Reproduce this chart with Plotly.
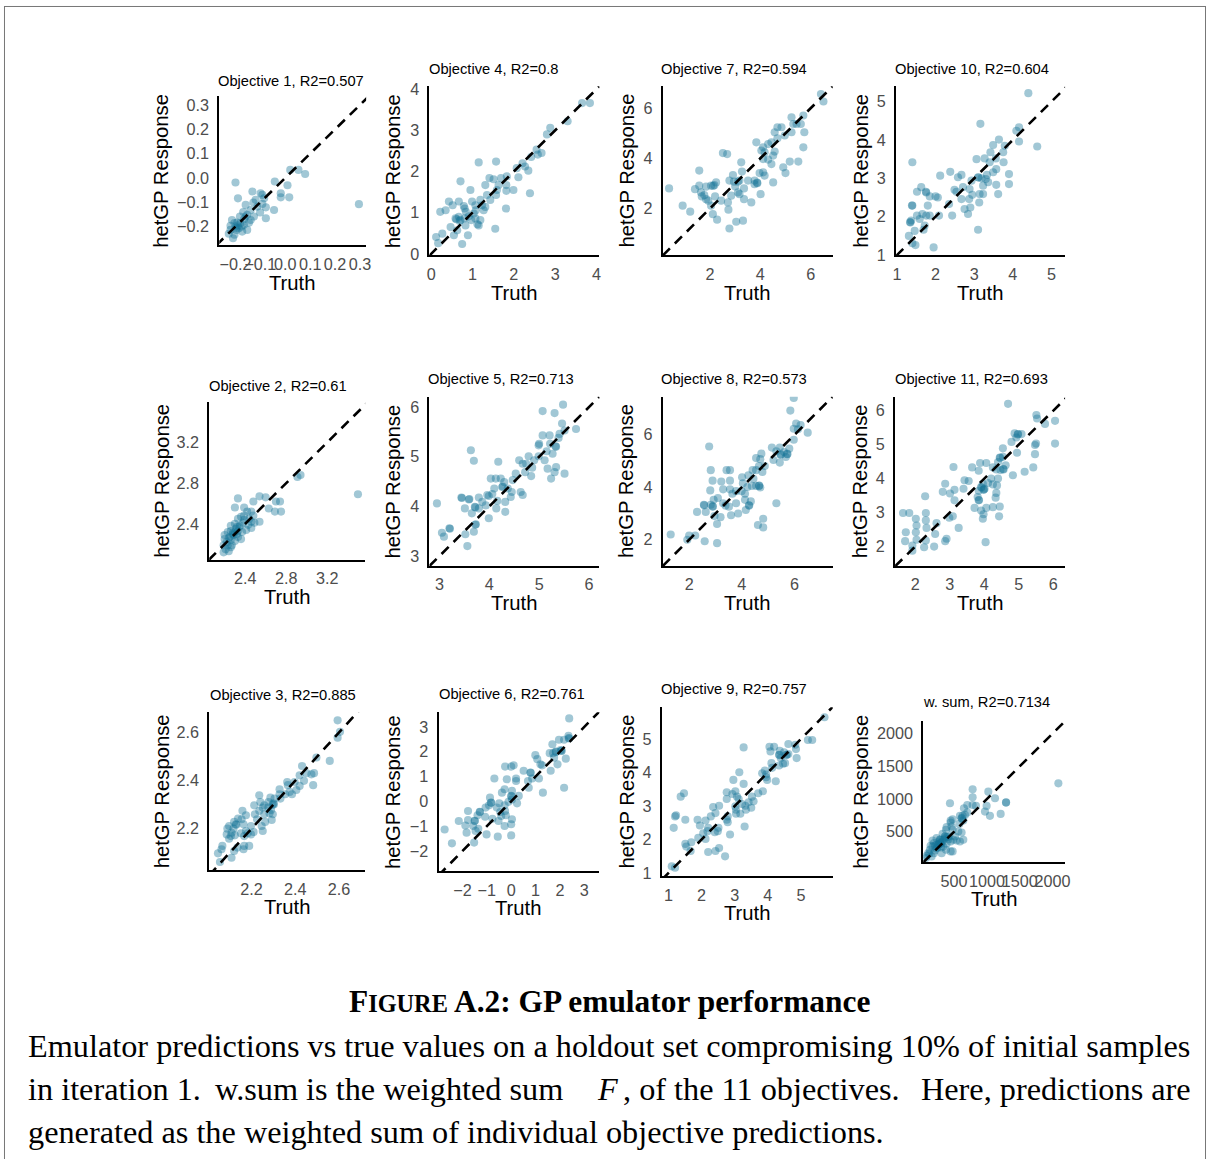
import plotly.graph_objects as go

W, H = 1211, 1167
# The captured page comes out with an 8px inset and a slight uniform shrink;
# positions below are given in captured-image pixels and mapped back here.
SX, SY, OFF = 0.987, 0.9865, 8

# (truth, hetGP prediction) pairs for each objective on the holdout set
OBJ1 = [(0.296, -0.108), (0.020, 0.033), (0.053, 0.033), (0.080, 0.016), (-0.042, -0.015), (0.009, -0.030),
        (-0.018, -0.063), (-0.018, -0.080), (0.016, -0.080), (-0.045, -0.132), (-0.078, -0.166), (-0.200, -0.019),
        (-0.132, -0.056), (-0.099, -0.063), (-0.190, -0.084), (-0.119, -0.090), (-0.085, -0.084), (-0.092, -0.107),
        (-0.112, -0.118), (-0.139, -0.132), (-0.159, -0.111), (-0.153, -0.152), (-0.166, -0.170), (-0.126, -0.159),
        (-0.101, -0.142), (-0.146, -0.184), (-0.180, -0.186), (-0.200, -0.200), (-0.214, -0.173), (-0.220, -0.214),
        (-0.204, -0.234), (-0.227, -0.230), (-0.186, -0.207), (-0.173, -0.221), (-0.196, -0.214), (-0.166, -0.193),
        (-0.153, -0.214), (-0.139, -0.173), (-0.210, -0.248), (-0.193, -0.184), (-0.220, -0.197), (-0.169, -0.140),
        (-0.128, -0.101), (-0.078, -0.121), (-0.092, -0.070), (-0.159, -0.159), (-0.182, -0.159), (-0.204, -0.186),
        (-0.196, -0.205), (-0.190, -0.195), (-0.175, -0.200)]

OBJ2 = [(3.50, 2.69), (2.94, 2.88), (2.91, 2.86), (2.74, 2.62), (2.75, 2.52), (2.70, 2.62), (2.69, 2.52),
        (2.63, 2.55), (2.60, 2.66), (2.54, 2.67), (2.48, 2.62), (2.33, 2.65), (2.30, 2.56), (2.39, 2.56),
        (2.42, 2.52), (2.46, 2.52), (2.48, 2.48), (2.54, 2.42), (2.44, 2.45), (2.39, 2.44), (2.36, 2.47),
        (2.33, 2.45), (2.30, 2.40), (2.35, 2.38), (2.34, 2.37), (2.38, 2.41), (2.43, 2.39), (2.46, 2.42),
        (2.41, 2.34), (2.37, 2.32), (2.33, 2.33), (2.30, 2.32), (2.26, 2.33), (2.23, 2.32), (2.20, 2.29),
        (2.25, 2.27), (2.29, 2.29), (2.28, 2.30), (2.33, 2.27), (2.36, 2.25), (2.30, 2.23), (2.26, 2.24),
        (2.22, 2.22), (2.20, 2.25), (2.23, 2.19), (2.26, 2.17), (2.21, 2.15), (2.24, 2.13), (2.19, 2.12),
        (2.27, 2.19), (2.32, 2.37), (2.26, 2.38), (2.39, 2.48), (2.46, 2.36), (2.49, 2.41), (2.19, 2.19),
        (2.31, 2.35), (2.28, 2.31), (2.24, 2.26), (2.32, 2.30)]

OBJ3 = [(2.594, 2.651), (2.605, 2.603), (2.594, 2.579), (2.558, 2.482), (2.497, 2.496), (2.474, 2.426),
        (2.486, 2.431), (2.482, 2.381), (2.451, 2.431), (2.431, 2.461), (2.420, 2.422), (2.440, 2.399),
        (2.420, 2.378), (2.397, 2.394), (2.405, 2.361), (2.366, 2.381), (2.363, 2.394), (2.374, 2.353),
        (2.354, 2.343), (2.385, 2.343), (2.328, 2.364), (2.328, 2.343), (2.332, 2.325), (2.305, 2.325),
        (2.302, 2.301), (2.286, 2.329), (2.277, 2.311), (2.258, 2.297), (2.235, 2.339), (2.240, 2.311),
        (2.251, 2.288), (2.277, 2.288), (2.289, 2.278), (2.297, 2.260), (2.282, 2.264), (2.292, 2.236),
        (2.258, 2.260), (2.262, 2.228), (2.246, 2.211), (2.251, 2.190), (2.235, 2.274), (2.225, 2.239),
        (2.215, 2.260), (2.197, 2.211), (2.209, 2.186), (2.197, 2.176), (2.174, 2.190), (2.163, 2.218),
        (2.158, 2.274), (2.154, 2.239), (2.174, 2.256), (2.138, 2.242), (2.128, 2.218), (2.130, 2.216),
        (2.117, 2.200), (2.123, 2.172), (2.108, 2.183), (2.097, 2.158), (2.097, 2.211), (2.089, 2.200),
        (2.086, 2.176), (2.105, 2.169), (2.151, 2.181), (2.166, 2.169), (2.182, 2.181), (2.166, 2.128),
        (2.163, 2.114), (2.135, 2.121), (2.120, 2.107), (2.066, 2.128), (2.062, 2.114), (2.046, 2.097),
        (2.055, 2.061), (2.108, 2.079), (2.189, 2.128), (2.120, 2.228), (2.212, 2.297), (2.300, 2.305),
        (2.296, 2.300)]

OBJ4 = [(3.65, 3.66), (3.84, 3.66), (3.30, 3.22), (2.88, 3.06), (2.80, 2.90), (2.58, 2.41), (2.67, 2.45),
        (2.55, 2.53), (2.42, 2.35), (2.21, 2.20), (2.27, 2.12), (2.35, 2.02), (2.39, 1.47), (2.07, 2.08),
        (1.99, 1.55), (1.82, 1.53), (1.82, 1.67), (1.81, 1.10), (1.69, 1.84), (1.63, 1.67), (1.57, 2.24),
        (1.15, 2.22), (1.41, 1.84), (1.51, 1.81), (1.59, 1.55), (1.31, 1.67), (1.43, 1.31), (1.57, 1.43),
        (1.19, 1.31), (1.23, 1.18), (1.31, 1.14), (1.08, 1.06), (0.99, 1.27), (0.95, 1.55), (0.71, 1.76),
        (0.43, 1.27), (0.22, 1.02), (0.52, 1.18), (0.67, 1.27), (0.79, 1.16), (0.84, 1.02), (0.67, 0.90),
        (0.59, 0.86), (0.71, 0.82), (0.81, 0.86), (0.91, 0.91), (1.03, 0.98), (1.07, 0.86), (1.15, 0.69),
        (1.19, 0.82), (0.97, 0.82), (0.83, 0.69), (0.63, 0.57), (0.55, 0.45), (0.47, 0.65), (0.27, 0.49),
        (0.12, 0.41), (0.17, 0.26), (0.75, 0.24), (0.89, 0.45), (1.55, 0.61), (0.81, 1.10), (1.07, 1.18),
        (1.27, 1.06), (1.35, 1.43), (0.35, 1.06), (1.83, 1.88), (2.11, 1.86), (0.61, 0.84), (0.69, 0.80),
        (1.12, 0.72)]

OBJ5 = [(5.48, 6.05), (5.07, 5.92), (5.31, 5.88), (5.46, 5.67), (5.74, 5.56), (5.51, 5.53), (5.41, 5.46),
        (5.07, 5.43), (5.21, 5.43), (4.99, 5.23), (5.00, 5.26), (5.22, 5.26), (5.33, 5.21), (5.34, 5.20),
        (5.27, 5.06), (5.39, 5.38), (5.15, 5.11), (5.11, 4.93), (5.17, 4.76), (5.31, 4.69), (5.24, 4.56),
        (5.34, 4.79), (5.51, 4.66), (4.99, 5.01), (4.90, 4.93), (4.79, 5.01), (4.74, 4.86), (4.86, 4.78),
        (4.72, 4.69), (4.84, 4.61), (4.60, 4.93), (4.67, 4.86), (4.53, 4.66), (4.47, 4.53), (4.45, 4.29),
        (4.63, 4.29), (4.67, 4.23), (4.43, 4.19), (4.37, 4.36), (4.30, 4.49), (4.23, 4.56), (4.26, 4.39),
        (4.27, 4.40), (4.13, 4.56), (4.03, 4.56), (4.10, 4.36), (4.18, 4.90), (4.06, 4.25), (3.99, 4.21),
        (4.16, 4.11), (4.14, 3.96), (4.32, 4.09), (4.32, 3.89), (3.93, 4.02), (3.96, 4.23), (3.86, 4.09),
        (3.79, 4.18), (3.79, 3.96), (3.71, 3.99), (3.72, 3.98), (3.65, 3.86), (3.51, 3.96), (3.59, 4.14),
        (3.60, 4.15), (3.44, 4.18), (3.45, 4.17), (3.63, 5.13), (3.69, 4.92), (3.99, 3.76), (3.73, 3.64),
        (3.72, 3.63), (3.69, 3.49), (3.52, 3.44), (3.56, 3.20), (3.20, 3.56), (3.21, 3.55), (3.05, 3.47),
        (3.09, 3.39), (2.95, 4.06)]

OBJ6 = [(2.38, 3.34), (2.35, 2.64), (2.38, 2.53), (2.36, 2.55), (2.17, 2.48), (1.96, 2.48), (1.69, 2.30),
        (2.03, 2.07), (2.07, 2.03), (2.06, 2.04), (1.83, 1.99), (1.84, 2.00), (1.58, 1.94), (1.72, 1.94),
        (1.76, 1.76), (2.24, 1.72), (1.90, 1.49), (1.62, 1.23), (2.17, 0.55), (0.99, 1.86), (1.07, 1.70),
        (1.20, 1.49), (1.27, 1.45), (0.79, 1.16), (0.80, 1.15), (1.14, 0.92), (1.30, 0.35), (0.86, 0.92),
        (0.51, 1.23), (0.20, 0.92), (0.20, 0.82), (0.69, 0.82), (0.72, 0.55), (0.31, 0.22), (0.24, -0.08),
        (0.03, 0.08), (0.00, 0.22), (0.01, 0.20), (0.03, 0.42), (0.00, 1.40), (0.10, 1.45), (-0.11, -0.02),
        (-0.25, 1.40), (-0.18, 0.89), (-0.27, 0.49), (-0.38, 0.35), (-0.27, -0.16), (-0.49, -0.08),
        (-0.59, -0.25), (-0.45, -0.43), (-0.41, -0.59), (-0.25, -0.39), (-0.22, -0.56), (0.03, -0.72),
        (0.00, -0.92), (-0.27, -0.99), (-0.52, -0.79), (-0.77, -0.70), (-0.83, -0.05), (-0.82, -0.06),
        (-0.87, 0.15), (-0.69, 0.92), (-0.91, -0.16), (-1.05, -0.25), (-1.07, -0.62), (-1.28, -0.43),
        (-1.29, -0.42), (-1.38, -0.56), (-1.49, -0.79), (-1.50, -0.78), (-1.35, -1.10), (-1.46, -1.19),
        (-1.56, -0.99), (-1.77, -0.39), (-1.77, -0.75), (-1.88, -0.97), (-1.83, -1.26), (-1.01, -1.33),
        (-0.55, -1.42), (0.00, -1.37), (-1.52, -1.66), (-2.15, -0.79), (-2.43, -1.69), (-2.73, -1.13)]

OBJ7 = [(6.41, 6.57), (6.51, 6.27), (5.71, 5.71), (5.61, 5.37), (5.31, 5.37), (5.24, 5.64), (5.44, 5.37),
        (5.24, 5.04), (5.75, 5.04), (5.71, 4.44), (5.51, 3.87), (4.97, 4.91), (4.84, 5.24), (4.68, 5.24),
        (4.57, 5.04), (4.68, 4.80), (4.57, 4.27), (4.44, 4.64), (4.31, 4.57), (4.11, 4.44), (3.84, 4.64),
        (4.04, 4.31), (4.17, 4.24), (4.51, 4.11), (4.44, 3.77), (4.31, 3.95), (4.11, 3.97), (4.91, 3.64),
        (5.00, 3.41), (5.17, 3.87), (4.51, 3.04), (4.11, 3.44), (4.17, 3.31), (3.97, 3.41), (3.77, 3.11),
        (3.88, 3.01), (3.77, 2.97), (4.01, 2.57), (3.64, 2.24), (3.24, 3.84), (3.27, 3.47), (3.51, 3.11),
        (3.17, 3.11), (2.91, 3.33), (2.77, 3.11), (2.95, 3.07), (3.00, 2.88), (3.11, 2.64), (3.35, 2.80),
        (3.17, 2.57), (3.35, 2.37), (2.84, 2.51), (2.71, 2.24), (2.73, 1.95), (2.51, 4.21), (2.68, 4.17),
        (2.44, 2.31), (2.77, 1.20), (3.04, 1.47), (3.31, 1.51), (2.28, 1.55), (2.11, 1.77), (2.04, 2.11),
        (2.20, 2.48), (2.04, 2.91), (2.17, 2.93), (2.24, 3.04), (1.84, 2.87), (1.77, 2.53), (1.64, 2.64),
        (1.67, 2.48), (1.57, 2.91), (1.57, 3.51), (1.40, 2.77), (1.93, 2.31), (1.84, 2.37), (1.21, 1.87),
        (0.91, 2.11), (0.37, 2.80), (3.87, 3.03), (2.12, 2.90), (3.11, 3.07)]

OBJ8 = [(5.97, 7.40), (5.84, 6.92), (6.06, 6.43), (6.23, 6.37), (6.13, 6.21), (5.97, 6.23), (6.50, 6.08),
        (5.97, 5.81), (5.44, 5.51), (5.80, 5.47), (5.60, 5.34), (5.47, 5.24), (5.48, 5.25), (5.73, 5.27),
        (5.72, 5.26), (5.67, 5.15), (5.14, 5.51), (5.31, 5.37), (5.20, 5.04), (5.44, 4.94), (4.74, 5.28),
        (4.54, 5.11), (4.70, 5.07), (4.65, 4.81), (4.87, 4.81), (4.78, 4.58), (4.54, 4.65), (4.41, 4.65),
        (4.25, 4.45), (4.44, 4.32), (4.54, 4.05), (4.65, 4.05), (4.66, 4.06), (4.70, 3.99), (4.38, 4.05),
        (4.21, 4.01), (4.01, 4.38), (4.04, 4.15), (3.99, 3.85), (3.78, 3.85), (4.12, 3.75), (3.64, 3.75),
        (3.55, 3.92), (4.12, 3.52), (4.34, 3.46), (4.28, 3.30), (4.27, 3.31), (4.15, 3.13), (3.86, 3.00),
        (3.78, 3.39), (5.31, 3.39), (3.59, 2.93), (3.51, 3.26), (3.42, 4.65), (3.55, 4.65), (3.55, 4.25),
        (3.29, 3.92), (3.22, 4.22), (2.89, 4.25), (2.82, 4.65), (2.80, 3.88), (2.76, 5.55), (3.09, 3.59),
        (2.93, 3.52), (3.29, 3.39), (3.38, 3.30), (2.89, 3.26), (2.90, 3.27), (2.82, 3.33), (2.56, 3.33),
        (2.57, 3.31), (2.63, 3.06), (2.30, 3.06), (2.96, 2.90), (3.19, 2.86), (3.06, 2.60), (4.61, 2.56),
        (4.81, 2.47), (4.81, 2.80), (3.06, 1.87), (2.59, 1.94), (2.23, 2.16), (2.00, 2.16), (1.93, 2.00),
        (1.30, 2.20)]

OBJ9 = [(5.71, 5.65), (5.34, 4.97), (5.21, 4.97), (4.83, 4.83), (4.62, 4.85), (4.85, 4.70), (4.87, 4.43),
        (4.62, 4.55), (4.56, 4.53), (4.57, 4.52), (4.49, 4.60), (4.34, 4.53), (4.35, 4.52), (4.36, 4.65),
        (4.39, 4.43), (4.52, 4.28), (4.34, 4.21), (4.46, 4.26), (4.19, 4.77), (4.05, 4.77), (4.08, 4.63),
        (4.11, 4.28), (4.13, 4.14), (4.24, 3.74), (3.91, 4.06), (3.95, 3.94), (3.95, 3.86), (3.83, 3.98),
        (3.98, 3.78), (3.85, 3.44), (3.71, 3.38), (3.52, 3.28), (3.57, 3.14), (3.42, 3.11), (3.50, 2.95),
        (3.32, 3.01), (3.34, 2.89), (3.27, 3.66), (3.22, 3.06), (3.14, 4.01), (2.96, 3.78), (3.02, 3.44),
        (2.93, 3.36), (3.07, 3.28), (3.12, 3.21), (3.02, 2.99), (3.04, 2.89), (3.17, 2.77), (3.04, 2.77),
        (3.27, 4.75), (3.30, 2.39), (2.76, 3.41), (2.76, 3.21), (2.79, 2.69), (2.76, 2.59), (2.79, 2.52),
        (2.86, 2.15), (2.53, 3.01), (2.35, 2.97), (2.42, 2.79), (2.28, 2.69), (2.51, 2.35), (2.49, 2.25),
        (2.40, 2.22), (2.20, 2.35), (2.18, 2.25), (2.12, 2.57), (1.88, 2.59), (1.95, 2.42), (2.05, 2.19),
        (1.90, 2.05), (2.12, 2.02), (2.53, 1.75), (2.42, 1.66), (2.20, 1.63), (2.71, 1.50), (1.69, 1.92),
        (1.67, 1.66), (1.51, 1.87), (1.54, 1.79), (1.51, 2.59), (1.37, 3.28), (1.47, 3.38), (1.20, 2.69),
        (1.16, 2.35), (1.23, 2.72), (1.10, 1.20), (1.20, 1.16)]

OBJ10 = [(4.40, 5.22), (4.63, 3.83), (4.16, 4.33), (4.09, 4.24), (4.16, 3.96), (3.79, 3.85), (3.75, 3.68),
         (3.76, 3.42), (3.90, 3.11), (3.90, 2.85), (3.64, 4.01), (3.49, 3.87), (3.42, 3.68), (3.56, 3.52),
         (3.40, 3.42), (3.57, 3.24), (3.49, 3.16), (3.57, 2.83), (3.62, 2.59), (3.27, 3.52), (3.16, 4.42),
         (3.06, 3.50), (3.10, 3.03), (3.19, 3.00), (3.30, 2.98), (3.33, 3.09), (3.36, 2.90), (3.23, 2.81),
         (3.14, 2.59), (3.23, 2.59), (3.13, 2.37), (3.10, 1.66), (2.93, 2.94), (2.88, 2.72), (2.95, 2.57),
         (2.87, 2.46), (2.90, 2.24), (2.84, 2.07), (2.71, 2.77), (2.75, 2.20), (2.67, 3.09), (2.58, 3.03),
         (2.67, 2.46), (2.54, 2.65), (2.49, 2.70), (2.38, 3.17), (2.35, 2.33), (2.43, 2.03), (2.12, 3.07),
         (2.09, 2.03), (2.06, 2.50), (2.00, 2.53), (1.85, 2.53), (1.80, 2.29), (1.76, 2.63), (1.75, 2.65),
         (1.63, 2.77), (1.52, 2.65), (1.85, 2.03), (1.76, 2.03), (1.66, 2.07), (1.59, 1.94), (1.72, 1.77),
         (1.69, 1.66), (1.52, 2.03), (1.40, 2.29), (1.39, 2.29), (1.37, 1.90), (1.35, 1.85), (1.34, 1.86),
         (1.46, 1.63), (1.31, 1.50), (1.40, 1.31), (1.48, 1.26), (1.95, 1.20), (1.40, 3.42), (3.11, 3.02)]

OBJ11 = [(4.69, 6.20), (5.51, 5.87), (5.53, 5.77), (5.76, 5.61), (6.05, 5.70), (6.05, 5.03), (5.50, 5.03),
         (5.47, 4.99), (5.47, 4.72), (5.42, 4.33), (5.17, 4.20), (4.88, 5.33), (4.98, 5.31), (4.97, 5.30),
         (5.08, 5.31), (4.93, 5.21), (4.79, 5.08), (4.95, 4.76), (4.83, 4.10), (4.54, 4.89), (4.54, 4.64),
         (4.45, 4.62), (4.46, 4.61), (4.40, 4.49), (4.62, 4.39), (4.47, 4.25), (4.35, 4.27), (4.25, 4.33),
         (4.56, 4.27), (4.55, 4.28), (4.40, 4.00), (4.37, 3.80), (4.25, 3.83), (4.20, 4.00), (4.11, 3.87),
         (4.06, 4.46), (3.88, 4.46), (3.84, 4.23), (3.96, 3.85), (3.91, 3.75), (3.92, 3.74), (4.01, 3.70),
         (3.98, 3.67), (3.99, 3.68), (3.84, 3.64), (4.35, 3.58), (4.33, 3.44), (4.25, 3.16), (4.45, 3.18),
         (4.43, 2.89), (4.06, 3.14), (3.91, 3.06), (3.98, 2.95), (3.96, 2.82), (4.04, 2.13), (3.84, 3.36),
         (3.85, 3.37), (3.81, 3.46), (3.72, 3.14), (3.65, 4.33), (3.55, 3.93), (3.43, 3.95), (3.40, 3.70),
         (3.11, 4.34), (3.14, 3.67), (3.01, 3.56), (2.87, 3.85), (2.80, 3.61), (3.14, 3.36), (3.09, 2.89),
         (2.99, 2.85), (3.26, 2.55), (2.91, 2.23), (2.87, 2.16), (2.62, 2.69), (2.58, 2.37), (2.55, 2.00),
         (2.31, 2.99), (2.29, 3.48), (2.31, 2.77), (2.33, 2.55), (2.31, 2.18), (2.26, 1.98), (2.04, 2.62),
         (2.02, 2.82), (2.02, 2.42), (2.04, 2.20), (1.92, 2.03), (1.92, 1.88), (1.83, 2.99), (1.65, 2.99),
         (1.73, 2.42), (1.71, 2.16)]

WSUM = [(2088, 1239), (1290, 945), (1292, 948), (1209, 772), (1123, 1011), (1046, 742), (995, 894),
        (1021, 1112), (970, 807), (782, 1148), (782, 1026), (701, 909), (782, 909), (833, 894), (650, 858),
        (665, 757), (630, 741), (614, 706), (616, 704), (640, 670), (589, 741), (701, 792), (437, 934),
        (477, 691), (447, 670), (579, 619), (462, 579), (564, 503), (614, 487), (386, 569), (477, 528),
        (376, 528), (427, 426), (325, 467), (411, 386), (447, 350), (361, 426), (363, 424), (335, 376),
        (284, 376), (286, 378), (233, 401), (294, 315), (259, 299), (261, 301), (193, 325), (172, 274),
        (233, 248), (208, 213), (132, 223), (121, 162), (81, 132), (157, 121), (193, 172), (335, 274),
        (386, 315), (376, 223), (310, 172), (477, 198), (447, 198), (447, 640), (538, 365), (589, 350),
        (640, 376), (487, 376), (513, 426), (208, 284), (274, 350), (142, 284), (106, 172), (71, 96),
        (172, 365), (300, 330), (320, 340), (280, 320), (250, 260), (360, 400), (400, 420), (230, 300),
        (300, 260)]

TITLES = ["Objective 1, R2=0.507", "Objective 4, R2=0.8", "Objective 7, R2=0.594", "Objective 10, R2=0.604",
          "Objective 2, R2=0.61", "Objective 5, R2=0.713", "Objective 8, R2=0.573", "Objective 11, R2=0.693",
          "Objective 3, R2=0.885", "Objective 6, R2=0.761", "Objective 9, R2=0.757", "w. sum, R2=0.7134"]

TICKS = [[-0.2, -0.1, 0.0, 0.1, 0.2, 0.3], [0, 1, 2, 3, 4], [2, 4, 6], [1, 2, 3, 4, 5],
         [2.4, 2.8, 3.2], [3, 4, 5, 6], [2, 4, 6], [2, 3, 4, 5, 6],
         [2.2, 2.4, 2.6], [-2, -1, 0, 1, 2, 3], [1, 2, 3, 4, 5], [500, 1000, 1500, 2000]]

DATA = [OBJ1, OBJ4, OBJ7, OBJ10, OBJ2, OBJ5, OBJ8, OBJ11, OBJ3, OBJ6, OBJ9, WSUM]

# Panel layout in image pixels: plot box (x0, y0, x1, y1), axis ranges, title centre, y-title x
LAYOUT = [
    dict(box=(222, 98, 368, 247), xr=(-0.265, 0.325), yr=(-0.278, 0.336), tc=(293, 83), ytx=164, dec=1),
    dict(box=(431, 88, 600, 257), xr=(-0.04, 4.07), yr=(-0.04, 4.07), tc=(495, 71), ytx=395, dec=0),
    dict(box=(663, 88, 832, 257), xr=(0.12, 6.88), yr=(0.12, 6.88), tc=(734, 71), ytx=627, dec=0),
    dict(box=(895, 88, 1063, 257), xr=(0.98, 5.35), yr=(0.99, 5.40), tc=(970, 71), ytx=860, dec=0),
    dict(box=(212, 403, 367, 561), xr=(2.05, 3.57), yr=(2.045, 3.60), tc=(280, 387), ytx=165, dec=1),
    dict(box=(431, 398, 600, 567), xr=(2.80, 6.21), yr=(2.80, 6.21), tc=(502, 380), ytx=395, dec=0),
    dict(box=(663, 398, 832, 567), xr=(1.0, 7.45), yr=(1.0, 7.45), tc=(734, 380), ytx=627, dec=0),
    dict(box=(894, 398, 1063, 567), xr=(1.42, 6.34), yr=(1.43, 6.41), tc=(970, 380), ytx=859, dec=0),
    dict(box=(212, 713, 367, 871), xr=(2.006, 2.72), yr=(2.026, 2.685), tc=(285, 696), ytx=165, dec=1),
    dict(box=(440, 713, 600, 872), xr=(-2.98, 3.62), yr=(-2.82, 3.59), tc=(513, 695), ytx=395, dec=0),
    dict(box=(662, 708, 832, 877), xr=(0.80, 5.96), yr=(0.90, 5.95), tc=(734, 690), ytx=627, dec=0),
    dict(box=(922, 722, 1063, 863), xr=(30, 2190), yr=(30, 2190), tc=(985, 703), ytx=860, dec=0),
]

SANS = "Liberation Sans, Arial, sans-serif"
SERIF = "Liberation Serif, Times New Roman, serif"
POINT_COLOR = "rgba(20,115,150,0.40)"


def fx(px):
    return (px / SX - OFF) / W


def fy(py):
    return 1 - (py / SY - OFF) / H


def fs(size):
    return round(size / SX, 2)


def fmt(v, dec):
    s = f"{abs(v):.{dec}f}"
    return ("\u2212" + s) if v < 0 else s


fig = go.Figure()
annotations = []
layout_axes = {}

for i, (pts, cfg, title, ticks) in enumerate(zip(DATA, LAYOUT, TITLES, TICKS), start=1):
    xa = "x" if i == 1 else f"x{i}"
    ya = "y" if i == 1 else f"y{i}"
    x0, y0, x1, y1 = cfg["box"]
    truth = [p[0] for p in pts]
    pred = [p[1] for p in pts]
    fig.add_trace(go.Scatter(x=truth, y=pred, mode="markers", xaxis=xa, yaxis=ya,
                             marker=dict(size=fs(8), color=POINT_COLOR, line=dict(width=0)),
                             showlegend=False, hoverinfo="skip"))
    lo = min(cfg["xr"][0], cfg["yr"][0])
    hi = max(cfg["xr"][1], cfg["yr"][1])
    fig.add_trace(go.Scatter(x=[lo, hi], y=[lo, hi], mode="lines", xaxis=xa, yaxis=ya,
                             line=dict(color="black", width=2.6, dash="10px,7px"),
                             showlegend=False, hoverinfo="skip"))
    labels = [fmt(t, cfg["dec"]) for t in ticks]
    common = dict(showgrid=False, zeroline=False, showline=True, linecolor="black", linewidth=2,
                  ticks="", tickmode="array", tickvals=ticks, ticktext=labels, tickangle=0,
                  tickfont=dict(family=SANS, size=fs(16), color="#4d4d4d"), fixedrange=True)
    key = "" if i == 1 else str(i)
    layout_axes[f"xaxis{key}"] = dict(common, domain=[fx(x0), fx(x1)], range=list(cfg["xr"]),
                                      anchor=ya, ticklabelstandoff=3)
    layout_axes[f"yaxis{key}"] = dict(common, domain=[fy(y1), fy(y0)], range=list(cfg["yr"]),
                                      anchor=xa, ticklabelstandoff=5)
    # panel title
    annotations.append(dict(x=fx(cfg["tc"][0]), y=fy(cfg["tc"][1]), xref="paper", yref="paper",
                            text=title, showarrow=False, xanchor="center", yanchor="middle",
                            font=dict(family=SANS, size=fs(14.5), color="black")))
    # axis titles
    annotations.append(dict(x=fx((x0 + x1) / 2), y=fy(y1 + 37), xref="paper", yref="paper",
                            text="Truth", showarrow=False, xanchor="center", yanchor="middle",
                            font=dict(family=SANS, size=fs(20), color="black")))
    annotations.append(dict(x=fx(cfg["ytx"]), y=fy((y0 + y1) / 2), xref="paper", yref="paper",
                            text="hetGP Response", showarrow=False, textangle=-90,
                            xanchor="center", yanchor="middle",
                            font=dict(family=SANS, size=fs(20), color="black")))

# caption
body = fs(31.85)
annotations.append(dict(x=fx(610), y=fy(1002), xref="paper", yref="paper", showarrow=False,
                        xanchor="center", yanchor="middle",
                        text=f"<b>F<span style='font-size:{fs(24)}px'>IGURE</span> A.2: GP emulator performance</b>",
                        font=dict(family=SERIF, size=fs(31), color="black")))
annotations.append(dict(x=fx(30), y=fy(1046), xref="paper", yref="paper", showarrow=False,
                        xanchor="left", yanchor="middle",
                        text="Emulator predictions vs true values on a holdout set compromising 10% of initial samples",
                        font=dict(family=SERIF, size=body, color="black")))
line2 = [(30, "left", "in iteration 1."),
         (216, "left", "w.sum is the weighted sum"),
         (596, "left", "<i>F</i>"),
         (621, "left", ", of the 11 objectives."),
         (1190, "right", "Here, predictions are")]
for px, anchor, txt in line2:
    annotations.append(dict(x=fx(px), y=fy(1089), xref="paper", yref="paper", showarrow=False,
                            xanchor=anchor, yanchor="middle", text=txt,
                            font=dict(family=SERIF, size=body, color="black")))
annotations.append(dict(x=fx(30), y=fy(1132), xref="paper", yref="paper", showarrow=False,
                        xanchor="left", yanchor="middle",
                        text="generated as the weighted sum of individual objective predictions.",
                        font=dict(family=SERIF, size=body, color="black")))

# page frame along the top and both sides
shapes = [
    dict(type="line", xref="paper", yref="paper", x0=0, x1=1, y0=1 - 0.5 / H, y1=1 - 0.5 / H,
         line=dict(color="#777777", width=1)),
    dict(type="line", xref="paper", yref="paper", x0=0.5 / W, x1=0.5 / W, y0=1, y1=0,
         line=dict(color="#777777", width=1)),
    dict(type="line", xref="paper", yref="paper", x0=1 - 0.5 / W, x1=1 - 0.5 / W, y0=1, y1=0,
         line=dict(color="#777777", width=1)),
]

fig.update_layout(width=W, height=H, margin=dict(l=0, r=0, t=0, b=0),
                  paper_bgcolor="white", plot_bgcolor="white",
                  annotations=annotations, shapes=shapes, showlegend=False, **layout_axes)

fig.write_html("out.html")
